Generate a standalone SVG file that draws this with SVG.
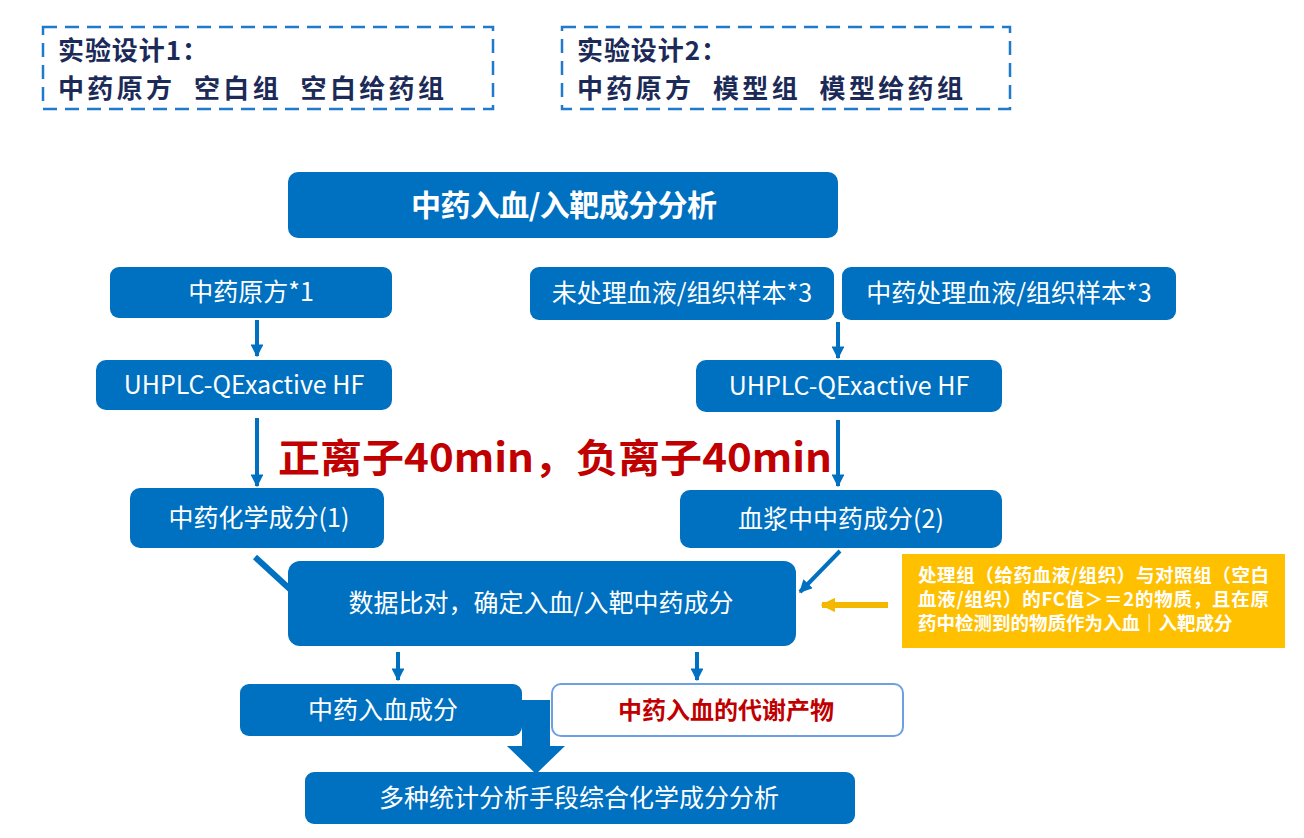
<svg xmlns="http://www.w3.org/2000/svg" width="1304" height="838" viewBox="0 0 1304 838">
<defs>
<style>
text{font-family:"Microsoft YaHei","Noto Sans CJK SC","Noto Sans",sans-serif}
.dash{fill:none;stroke:#1f7acc;stroke-width:2.5;stroke-dasharray:14 8}
.hdr{font-size:26px;font-weight:bold;fill:#1c2a58}
.box{fill:#0070c0}
.bt{font-size:25px;fill:#fff;text-anchor:middle}
.ln{stroke:#0070c0;stroke-width:4;fill:none}
.yt{font-size:18.5px;font-weight:bold;fill:#fff}
</style>
<marker id="ah" viewBox="0 0 10 10" refX="9" refY="5" markerWidth="3.2" markerHeight="3.2" orient="auto" markerUnits="strokeWidth">
<path d="M0,0 L10,5 L0,10 z" fill="#0070c0"/>
</marker>
<marker id="ahy" viewBox="0 0 10 10" refX="9" refY="5" markerWidth="2.4" markerHeight="2.4" orient="auto" markerUnits="strokeWidth">
<path d="M0,0 L10,5 L0,10 z" fill="#f5b800"/>
</marker>
</defs>
<rect width="1304" height="838" fill="#fff"/>

<g id="design1">
<rect class="dash" x="43" y="27" width="450" height="82"/>
<text class="hdr" x="58" y="60" textLength="150" lengthAdjust="spacing">实验设计1：</text>
<text class="hdr" x="58" y="98" xml:space="preserve" textLength="386" lengthAdjust="spacing">中药原方  空白组  空白给药组</text>
</g>
<g id="design2">
<rect class="dash" x="562" y="27" width="448" height="82"/>
<text class="hdr" x="577" y="60" textLength="150" lengthAdjust="spacing">实验设计2：</text>
<text class="hdr" x="577" y="98" xml:space="preserve" textLength="386" lengthAdjust="spacing">中药原方  模型组  模型给药组</text>
</g>

<g id="connectors">
<line class="ln" x1="257" y1="320" x2="257" y2="356" marker-end="url(#ah)"/>
<line class="ln" x1="257" y1="418" x2="257" y2="486" marker-end="url(#ah)"/>
<line class="ln" x1="838" y1="322" x2="838" y2="358" marker-end="url(#ah)"/>
<line class="ln" x1="838" y1="420" x2="838" y2="486" marker-end="url(#ah)"/>
<line x1="255" y1="557" x2="305" y2="603" stroke="#0070c0" stroke-width="6"/>
<line class="ln" x1="840" y1="551" x2="800" y2="592" marker-end="url(#ah)"/>
<line x1="888" y1="605" x2="822" y2="605" stroke="#f5b800" stroke-width="6" marker-end="url(#ahy)"/>
<line class="ln" x1="398" y1="652" x2="398" y2="680" marker-end="url(#ah)"/>
<line class="ln" x1="697" y1="652" x2="697" y2="680" marker-end="url(#ah)"/>
<polygon points="522,700 550,700 550,746 565,746 536,774 507,746 522,746" fill="#0070c0"/>
</g>

<g id="title">
<rect class="box" x="288" y="172" width="550" height="66" rx="10"/>
<text x="564" y="216" text-anchor="middle" font-size="30" font-weight="bold" fill="#fff" textLength="306" lengthAdjust="spacing">中药入血/入靶成分分析</text>
</g>
<g id="herb">
<rect class="box" x="110" y="267" width="282" height="51" rx="9"/>
<text class="bt" x="251" y="301">中药原方*1</text>
</g>
<g id="untreated">
<rect class="box" x="530" y="267" width="304" height="53" rx="9"/>
<text class="bt" x="682" y="302">未处理血液/组织样本*3</text>
</g>
<g id="treated">
<rect class="box" x="842" y="267" width="334" height="53" rx="9"/>
<text class="bt" x="1009" y="302">中药处理血液/组织样本*3</text>
</g>
<g id="uhplc1">
<rect class="box" x="96" y="360" width="296" height="50" rx="10"/>
<text class="bt" x="244" y="394">UHPLC-QExactive HF</text>
</g>
<g id="uhplc2">
<rect class="box" x="696" y="360" width="306" height="52" rx="10"/>
<text class="bt" x="849" y="395">UHPLC-QExactive HF</text>
</g>
<g id="ion">
<text x="278" y="472" font-size="39" font-weight="bold" fill="#c00000" textLength="554" lengthAdjust="spacingAndGlyphs">正离子40min，负离子40min</text>
</g>
<g id="chem1">
<rect class="box" x="130" y="488" width="254" height="60" rx="10"/>
<text class="bt" x="259" y="527">中药化学成分(1)</text>
</g>
<g id="plasma2">
<rect class="box" x="680" y="490" width="322" height="58" rx="10"/>
<text class="bt" x="841" y="528">血浆中中药成分(2)</text>
</g>
<g id="compare">
<rect class="box" x="288" y="561" width="508" height="85" rx="12"/>
<text class="bt" x="541" y="612">数据比对，确定入血/入靶中药成分</text>
</g>
<g id="note">
<rect x="902" y="554" width="383" height="94" fill="#ffc000"/>
<text class="yt" x="918" y="582" textLength="351" lengthAdjust="spacing">处理组（给药血液/组织）与对照组（空白</text>
<text class="yt" x="918" y="606" textLength="351" lengthAdjust="spacing">血液/组织）的FC值＞＝2的物质，且在原</text>
<text class="yt" x="918" y="630">药中检测到的物质作为入血｜入靶成分</text>
</g>
<g id="blood">
<rect class="box" x="240" y="684" width="282" height="52" rx="9"/>
<text class="bt" x="383" y="719">中药入血成分</text>
</g>
<g id="metab">
<rect x="552" y="684" width="351" height="52" rx="9" fill="#fff" stroke="#6e9fe3" stroke-width="2"/>
<text x="726" y="719" text-anchor="middle" font-size="24" font-weight="bold" fill="#c00000">中药入血的代谢产物</text>
</g>
<g id="stats">
<rect class="box" x="305" y="772" width="550" height="52" rx="9"/>
<text class="bt" x="579" y="807">多种统计分析手段综合化学成分分析</text>
</g>
</svg>
